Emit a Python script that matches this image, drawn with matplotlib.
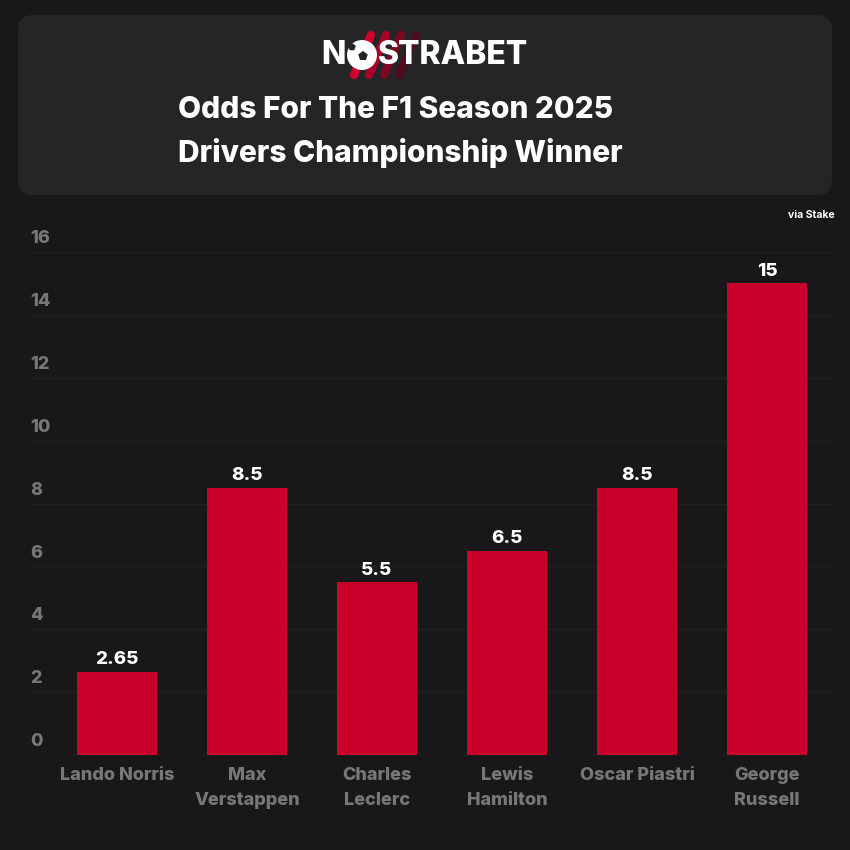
import matplotlib
matplotlib.use("Agg")
import matplotlib.pyplot as plt
from matplotlib.patches import FancyBboxPatch, Circle, RegularPolygon

drivers = ["Lando Norris", "Max\nVerstappen", "Charles\nLeclerc", "Lewis\nHamilton",
           "Oscar Piastri", "George\nRussell"]
odds = [2.65, 8.5, 5.5, 6.5, 8.5, 15]
value_labels = ["2.65", "8.5", "5.5", "6.5", "8.5", "15"]
yticks = [0, 2, 4, 6, 8, 10, 12, 14, 16]

BG = "#18181a"
PANEL = "#252528"
RED = "#c8002a"
GREY = "#77777a"
GRID = "#202023"

plt.rcParams["font.family"] = ["Inter", "DejaVu Sans"]

fig = plt.figure(figsize=(8.5, 8.5), dpi=100, facecolor=BG)


def fx(px):
    return px / 850


def fy(py):
    return 1 - py / 850


# header panel
hdr = FancyBboxPatch((fx(18), fy(195)), fx(814), 180 / 850,
                     boxstyle="round,pad=0,rounding_size=0.018",
                     transform=fig.transFigure, facecolor=PANEL, edgecolor="none",
                     zorder=0)
fig.add_artist(hdr)

# logo: slanted stripes, ball as the "O", wordmark
stripe_cols = ["#d0002c", "#a80027", "#7a0a22", "#4e0c1c"]
for i, c in enumerate(stripe_cols):
    x0 = 354 + i * 15
    fig.add_artist(plt.Line2D([fx(x0), fx(x0 + 17)], [fy(75), fy(35)],
                              transform=fig.transFigure, color=c, lw=6,
                              solid_capstyle="round", zorder=1))
fig.text(fx(346), fy(55), "N", color="white", fontsize=23, fontweight="heavy",
         ha="right", va="center", zorder=3)
fig.add_artist(Circle((fx(362), fy(55)), 15 / 850, transform=fig.transFigure,
                      facecolor="white", edgecolor="none", zorder=2))
fig.add_artist(RegularPolygon((fx(363), fy(56)), 5, radius=5 / 850,
                              transform=fig.transFigure, facecolor=PANEL,
                              edgecolor="none", zorder=3))
fig.add_artist(RegularPolygon((fx(352), fy(47)), 5, radius=4 / 850,
                              transform=fig.transFigure, facecolor=PANEL,
                              edgecolor="none", zorder=3))
fig.text(fx(378), fy(55), "STRABET", color="white", fontsize=23, fontweight="heavy",
         ha="left", va="center", zorder=3)

fig.text(fx(178), fy(110), "Odds For The F1 Season 2025", color="white",
         fontsize=21.5, fontweight="heavy", ha="left", va="center")
fig.text(fx(178), fy(153), "Drivers Championship Winner", color="white",
         fontsize=21.5, fontweight="heavy", ha="left", va="center")

fig.text(fx(835), fy(215), "via Stake", color="white", fontsize=7.5,
         fontweight="bold", ha="right", va="center")

# plot area: x=30..835 px, y=252..755 px
ax = fig.add_axes([fx(30), fy(755), fx(805), 503 / 850])
ax.set_facecolor(BG)
x = list(range(len(drivers)))
ax.bar(x, odds, width=80 / 130, color=RED, zorder=3)

for t in yticks:
    ax.axhline(t, color="#28282b" if t == 0 else GRID, lw=1, zorder=1)
    ax.annotate(str(t), xy=(0, t), xycoords=("axes fraction", "data"),
                xytext=(0, 3.5), textcoords="offset points",
                color=GREY, fontsize=13, fontweight="heavy", ha="left", va="bottom")

for xi, v, lab in zip(x, odds, value_labels):
    ax.annotate(lab, xy=(xi, v), xytext=(0, 2.5), textcoords="offset points",
                color="white", fontsize=13.5, fontweight="heavy",
                ha="center", va="bottom", zorder=4)

ax.set_xticks(x)
ax.set_xticklabels(drivers, color=GREY, fontsize=13, fontweight="heavy",
                   linespacing=1.55)
ax.tick_params(axis="x", length=0, pad=9)
ax.set_yticks([])
ax.set_xlim(-87 / 130, 5 + 68 / 130)
ax.set_ylim(0, 16)
for s in ax.spines.values():
    s.set_visible(False)

fig.savefig("out.png", dpi=100, facecolor=BG)
